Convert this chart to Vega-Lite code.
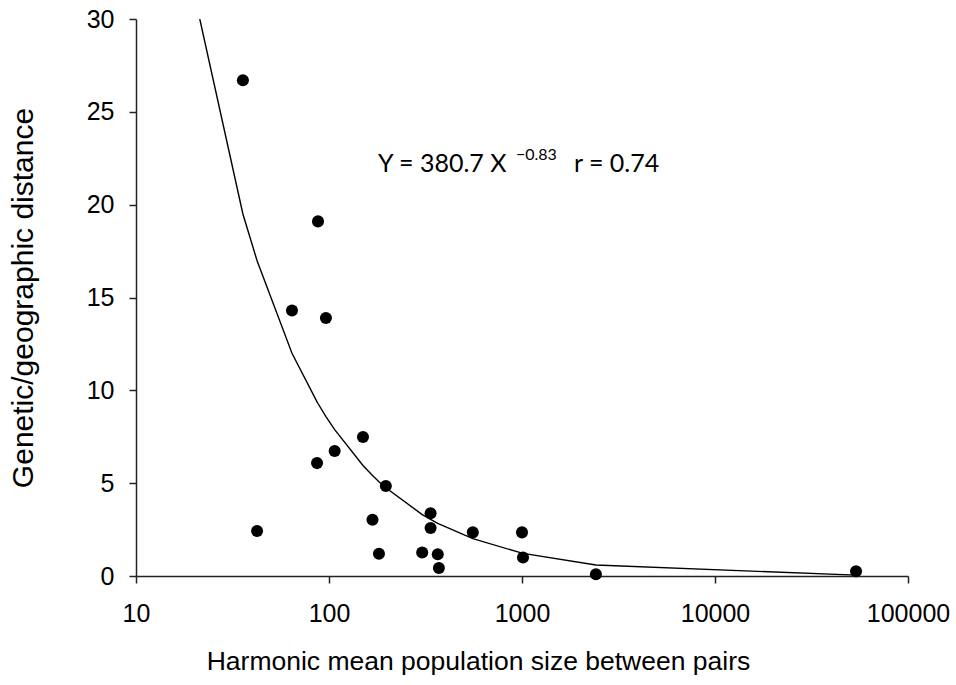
{
  "$schema": "https://vega.github.io/schema/vega-lite/v6.json",
  "width": 772,
  "height": 557,
  "autosize": {"type": "none"},
  "padding": {"left": 136, "top": 19, "right": 48, "bottom": 109},
  "background": "white",
  "config": {
    "view": {"stroke": null},
    "axis": {
      "grid": false,
      "domainColor": "#222222",
      "tickColor": "#222222",
      "domainWidth": 1.5,
      "tickWidth": 1.5,
      "tickSize": 7,
      "labelFont": "Liberation Sans",
      "labelFontSize": 25,
      "labelColor": "black",
      "labelFlush": false,
      "titleFont": "Liberation Sans",
      "titleFontWeight": "normal",
      "titleColor": "black"
    }
  },
  "datasets": {
    "pts": [
      {"n": 35.8, "d": 26.7},
      {"n": 42.4, "d": 2.42},
      {"n": 87.7, "d": 19.1},
      {"n": 64.3, "d": 14.3},
      {"n": 96.4, "d": 13.9},
      {"n": 150, "d": 7.49},
      {"n": 86.7, "d": 6.08},
      {"n": 107, "d": 6.73},
      {"n": 197, "d": 4.85},
      {"n": 168, "d": 3.03},
      {"n": 181.5, "d": 1.2},
      {"n": 336, "d": 3.38},
      {"n": 336, "d": 2.58},
      {"n": 304, "d": 1.27},
      {"n": 366, "d": 1.17},
      {"n": 371, "d": 0.43},
      {"n": 556, "d": 2.35},
      {"n": 1000, "d": 2.35},
      {"n": 1012, "d": 1.0},
      {"n": 2415, "d": 0.09},
      {"n": 53800, "d": 0.25}
    ],
    "fit": [
      {"n": 21.4, "d": 30.0},
      {"n": 35.8, "d": 19.5},
      {"n": 42.4, "d": 16.98},
      {"n": 64.3, "d": 12.0},
      {"n": 86.7, "d": 9.38},
      {"n": 87.7, "d": 9.29},
      {"n": 96.4, "d": 8.59},
      {"n": 107, "d": 7.88},
      {"n": 150, "d": 5.95},
      {"n": 168, "d": 5.41},
      {"n": 181.5, "d": 5.08},
      {"n": 197, "d": 4.75},
      {"n": 304, "d": 3.31},
      {"n": 336, "d": 3.05},
      {"n": 366, "d": 2.84},
      {"n": 371, "d": 2.81},
      {"n": 556, "d": 2.01},
      {"n": 1000, "d": 1.23},
      {"n": 1012, "d": 1.22},
      {"n": 2415, "d": 0.59},
      {"n": 53800, "d": 0.045}
    ],
    "main": [
      {"n": 179.5, "d": 22.19, "t": "Y = 380.7 X"},
      {"n": 1858, "d": 22.19, "t": "r = 0.74"}
    ],
    "sup": [
      {"n": 931, "d": 22.67, "t": "−0.83"}
    ]
  },
  "layer": [
    {
      "data": {"name": "fit"},
      "mark": {"type": "line", "color": "black", "strokeWidth": 1.4, "clip": true},
      "encoding": {
        "x": {
          "field": "n",
          "type": "quantitative",
          "scale": {"type": "log", "domain": [10, 100000], "nice": false},
          "axis": {
            "values": [10, 100, 1000, 10000, 100000],
            "format": "d",
            "labelPadding": 18,
            "title": "Harmonic mean population size between pairs",
            "titleFontSize": 26.5,
            "titlePadding": 22,
            "titleX": 342,
            "titleAlign": "center"
          }
        },
        "y": {
          "field": "d",
          "type": "quantitative",
          "scale": {"domain": [0, 30], "nice": false},
          "axis": {
            "values": [0, 5, 10, 15, 20, 25, 30],
            "labelPadding": 15,
            "title": "Genetic/geographic distance",
            "titleFontSize": 30,
            "titlePadding": 48
          }
        },
        "order": {"field": "n", "type": "quantitative"}
      }
    },
    {
      "data": {"name": "pts"},
      "mark": {"type": "circle", "color": "black", "opacity": 1, "size": 145},
      "encoding": {
        "x": {"field": "n", "type": "quantitative"},
        "y": {"field": "d", "type": "quantitative"}
      }
    },
    {
      "data": {"name": "main"},
      "mark": {"type": "text", "align": "left", "baseline": "middle", "font": "Lato", "fontSize": 25, "color": "black"},
      "encoding": {
        "x": {"field": "n", "type": "quantitative"},
        "y": {"field": "d", "type": "quantitative"},
        "text": {"field": "t"}
      }
    },
    {
      "data": {"name": "sup"},
      "mark": {"type": "text", "align": "left", "baseline": "middle", "font": "Lato", "fontSize": 16, "color": "black"},
      "encoding": {
        "x": {"field": "n", "type": "quantitative"},
        "y": {"field": "d", "type": "quantitative"},
        "text": {"field": "t"}
      }
    }
  ]
}
